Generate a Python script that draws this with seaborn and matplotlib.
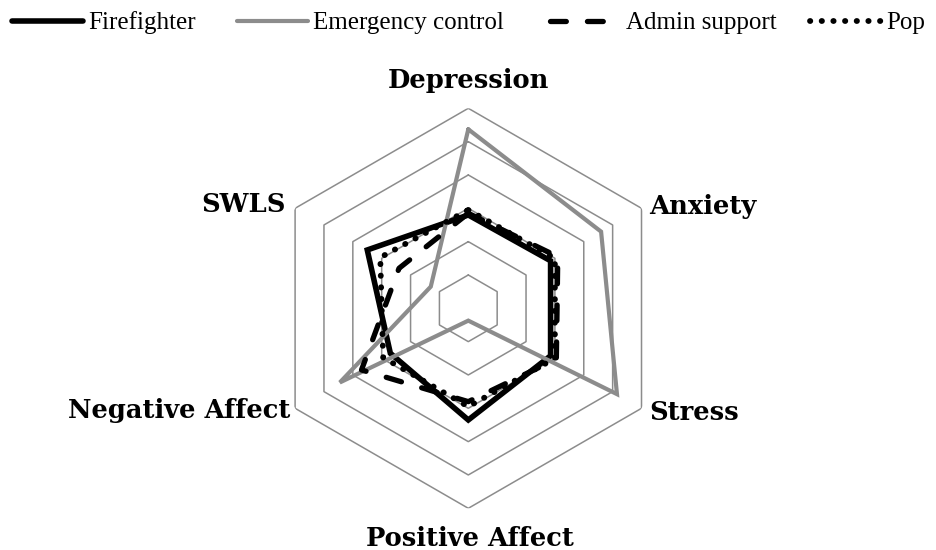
import numpy as np
import matplotlib
matplotlib.use("Agg")
import matplotlib.pyplot as plt
import seaborn as sns

# ---- data (scale units; grid rings at 1..6) ----
categories = ["Depression", "Anxiety", "Stress", "Positive Affect", "Negative Affect", "SWLS"]
firefighter = [2.80, 2.85, 2.85, 3.35, 2.70, 3.50]
emergency_control = [5.37, 4.60, 5.15, 0.37, 4.45, 1.30]
admin_support = [2.85, 3.10, 3.05, 2.80, 3.70, 2.40]
pop = [2.95, 3.00, 3.00, 2.95, 2.95, 3.05]
series_names = ["Firefighter", "Emergency control", "Admin support", "Pop"]
grid_levels = [1, 2, 3, 4, 5, 6]

sns.set_style("white")
plt.rcParams["font.family"] = ["DejaVu Serif"]
plt.rcParams["text.color"] = "black"

W, H = 937, 550
fig = plt.figure(figsize=(W / 100, H / 100), dpi=100)
cx, cy, R = 468.3, 308.3, 200.0
ax = fig.add_axes([(cx - R) / W, (H - cy - R) / H, 2 * R / W, 2 * R / H], projection="polar")
ax.set_theta_zero_location("N")
ax.set_theta_direction(-1)

n = len(categories)
angles = np.linspace(0, 2 * np.pi, n, endpoint=False)
ang_closed = np.append(angles, 2 * np.pi)

grey = "#8c8c8c"
# hexagonal grid
for lv in grid_levels:
    ax.plot(ang_closed, [lv] * (n + 1), color=grey, lw=1.1, zorder=1)

styles = [
    dict(color="black", lw=4.0, linestyle="-", solid_joinstyle="miter"),
    dict(color=grey, lw=3.0, linestyle="-", solid_joinstyle="miter"),
    dict(color="black", lw=3.8, linestyle=(0, (3.0, 4.0)), dash_capstyle="round"),
    dict(color="black", lw=4.2, linestyle=(0, (0.05, 1.95)), dash_capstyle="round"),
]
handles = []
for name, vals, st in zip(series_names, [firefighter, emergency_control, admin_support, pop], styles):
    v = np.append(vals, vals[0])
    sns.lineplot(x=ang_closed, y=v, ax=ax, sort=False, errorbar=None, label=name, zorder=3, **st)
    handles.append(ax.lines[-1])
if ax.get_legend() is not None:
    ax.get_legend().remove()

ax.set_ylim(0, 6)
ax.set_xticks([])
ax.set_yticks([])
ax.grid(False)
ax.spines["polar"].set_visible(False)
ax.set_xlabel("")
ax.set_ylabel("")
ax.patch.set_alpha(0)

# category labels
px = 0.72  # px -> points
label_pos = [
    (0, 20, "center", "baseline"),
    (8, -6, "left", "baseline"),
    (8, -12, "left", "baseline"),
    (2, -38, "center", "baseline"),
    (-5, -10, "right", "baseline"),
    (-9, -4, "right", "baseline"),
]
for a, lab, (dx, dy, ha, va) in zip(angles, categories, label_pos):
    ax.annotate(lab, xy=(a, 6), xytext=(dx * px, dy * px), textcoords="offset points",
                ha=ha, va=va, fontsize=18.5, fontweight="bold", family="DejaVu Serif",
                color="black", annotation_clip=False)

# legend (one entry each, placed along the top)
leg_x = [12, 237, 550, 810]
for h, x0 in zip(handles, leg_x):
    lg = fig.legend(handles=[h], labels=[h.get_label()], loc="center left",
                    bbox_to_anchor=(x0 / W, 1 - 23 / H), frameon=False, borderpad=0,
                    borderaxespad=0, handlelength=2.84, handletextpad=0.2,
                    prop={"family": "Liberation Serif", "size": 18})
    for t in lg.get_texts():
        t.set_color("black")

fig.savefig("out.png", dpi=100)
